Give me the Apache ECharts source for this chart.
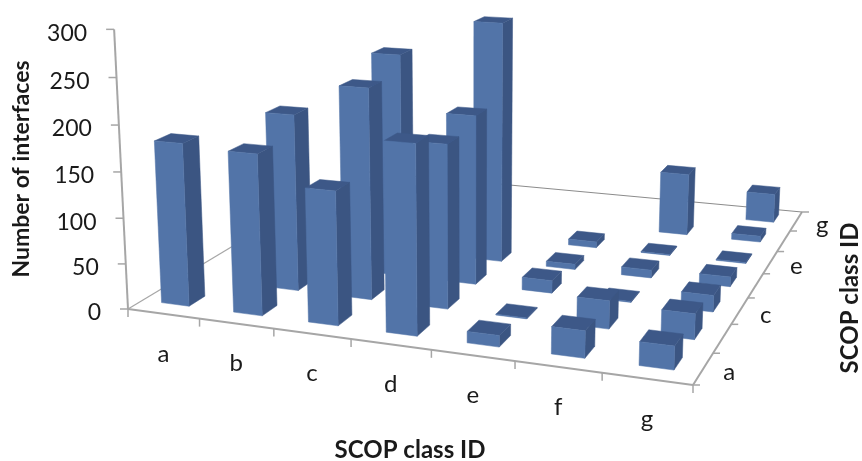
<!DOCTYPE html>
<html>
<head>
<meta charset="utf-8">
<style>
  html, body { margin: 0; padding: 0; background: #fff; }
  #chart { width: 862px; height: 461px; }
</style>
</head>
<body>
<div id="chart"></div>
<script src="https://cdn.jsdelivr.net/npm/echarts@6/dist/echarts.min.js"></script>
<script>
const classes = ['a', 'b', 'c', 'd', 'e', 'f', 'g']
const depthLabels = ['a', '', 'c', '', 'e', '', 'g']
const yTicks = [0, 50, 100, 150, 200, 250, 300]

// one list per x class, values go from depth class a towards the back
const classA = [178]
const classB = [174, 196]
const classC = [143, 231, 250]
const classD = [199, 178, 189, 275]
const classE = [12, 1, 14, 6, 7]
const classF = [28, 30, 1, 9, 1, 74]
const classG = [24, 27, 18, 11, 1, 7, 35]
const columns = [classA, classB, classC, classD, classE, classF, classG]

// floor corners and the vertical vanishing point of the picture
const floorFL = [128, 309]
const floorFR = [693, 385]
const floorBR = [802, 212]
const floorBL = [358, 171]
const vanish = [470, 7200]
const riseK = -0.039

const barW = 0.39
const barD = 0.40
const barShiftV = 0.05
const FONT = 'Lato, "Open Sans", sans-serif'

const dx1 = floorFR[0] - floorBR[0], dx2 = floorBL[0] - floorBR[0]
const dy1 = floorFR[1] - floorBR[1], dy2 = floorBL[1] - floorBR[1]
const sx = floorFL[0] - floorFR[0] + floorBR[0] - floorBL[0]
const sy = floorFL[1] - floorFR[1] + floorBR[1] - floorBL[1]
const den = dx1 * dy2 - dx2 * dy1
const g = (sx * dy2 - dx2 * sy) / den
const h = (dx1 * sy - sx * dy1) / den
const a = floorFR[0] - floorFL[0] + g * floorFR[0]
const b = floorBL[0] - floorFL[0] + h * floorBL[0]
const d = floorFR[1] - floorFL[1] + g * floorFR[1]
const e = floorBL[1] - floorFL[1] + h * floorBL[1]

// u, v on the floor 0..1, t is height 0..1
function project (u, v, t) {
  const k = riseK * t
  const w = g * u + h * v + 1 + k
  return [
    (a * u + b * v + floorFL[0] + k * vanish[0]) / w,
    (d * u + e * v + floorFL[1] + k * vanish[1]) / w
  ]
}

// back rows first so the front bars paint over them
const barData = []
for (let j = classes.length - 1; j >= 0; j--) {
  columns.forEach((col, i) => {
    if (col[j] !== undefined) barData.push([i, col[j], j])
  })
}

function renderBar (params, api) {
  const cs = params.coordSys
  const i = api.value(0)
  const p = api.coord([i, api.value(1)])
  const n = classes.length
  const band = (p[0] - cs.x) / cs.width
  // bars sit a little left of the band centre on the left side of the floor
  const uc = band + (-0.04 + 0.06 * band) / n
  const t = (cs.y + cs.height - p[1]) / cs.height
  const vc = (api.value(2) + 0.5 + barShiftV) / n
  const u0 = uc - barW / n / 2, u1 = uc + barW / n / 2
  const v0 = vc - barD / n / 2, v1 = vc + barD / n / 2
  const poly = (pts, fill) => ({
    type: 'polygon',
    shape: { points: pts },
    style: { fill: fill, stroke: fill, lineWidth: 0.5 }
  })
  return {
    type: 'group',
    children: [
      poly([project(u1, v0, 0), project(u1, v1, 0), project(u1, v1, t), project(u1, v0, t)], '#3b5582'),
      poly([project(u0, v0, t), project(u1, v0, t), project(u1, v1, t), project(u0, v1, t)], '#3d5888'),
      poly([project(u0, v0, 0), project(u1, v0, 0), project(u1, v0, t), project(u0, v0, t)], '#5274a8')
    ]
  }
}

function renderFrame () {
  const n = classes.length
  const kids = []
  const line = (p, q, color, lw) => kids.push({
    type: 'line',
    shape: { x1: p[0], y1: p[1], x2: q[0], y2: q[1] },
    style: { stroke: color, lineWidth: lw }
  })
  const text = (str, x, y, align, size) => kids.push({
    type: 'text',
    style: { text: str, x: x, y: y, font: size + 'px ' + FONT, fill: '#1a1a1a', align: align, verticalAlign: 'middle' }
  })
  const axisColor = '#a6a6a6'
  line(floorFL, floorFR, axisColor, 2)
  line(floorFR, floorBR, axisColor, 2)
  line(floorBR, floorBL, '#8c8c8c', 1.2)
  line(floorBL, floorFL, axisColor, 1.2)
  line(project(0, 0, 0), project(0, 0, 1), axisColor, 2)
  yTicks.forEach(v => {
    const p = project(0, 0, v / 300)
    line([p[0] - 8, p[1]], p, axisColor, 1.5)
    text(String(v), p[0] - 27, p[1] + 4, 'right', 23)
  })
  for (let i = 0; i <= n; i++) {
    const p = project(i / n, 0, 0)
    line(p, [p[0], p[1] + 8], axisColor, 1.5)
    const r = project(1, i / n, 0)
    line(r, [r[0] + 7, r[1]], axisColor, 1.5)
    if (i < n) {
      const m = project((i + 0.5) / n, 0, 0)
      text(classes[i], m[0], m[1] + 40, 'center', 24)
      const s = project(1, (i + 0.5) / n, 0)
      if (depthLabels[i]) text(depthLabels[i], s[0] + 26, s[1] + 4, 'center', 24)
    }
  }
  return { type: 'group', children: kids }
}

const myChart = echarts.init(document.getElementById('chart'), null, { width: 862, height: 461 })
myChart.setOption({
  animation: false,
  grid: { left: 0, top: 0, width: 700, height: 300 },
  xAxis: { type: 'category', data: classes, show: false },
  yAxis: { type: 'value', min: 0, max: 300, show: false },
  graphic: [
    { type: 'text', x: 22, y: 169, rotation: Math.PI / 2, style: { text: 'Number of interfaces', font: 'bold 23px ' + FONT, fill: '#1a1a1a', align: 'center', verticalAlign: 'middle' } },
    { type: 'text', x: 410, y: 450, style: { text: 'SCOP class ID', font: 'bold 24px ' + FONT, fill: '#1a1a1a', align: 'center', verticalAlign: 'middle' } },
    { type: 'text', x: 850, y: 298, rotation: Math.PI / 2, style: { text: 'SCOP class ID', font: 'bold 24px ' + FONT, fill: '#1a1a1a', align: 'center', verticalAlign: 'middle' } }
  ],
  series: [
    { type: 'custom', coordinateSystem: 'none', silent: true, z: 1, data: [0], renderItem: renderFrame },
    { type: 'custom', coordinateSystem: 'cartesian2d', silent: true, z: 2, data: barData, encode: { x: 0, y: 1 }, renderItem: renderBar }
  ]
})
</script>
</body>
</html>
